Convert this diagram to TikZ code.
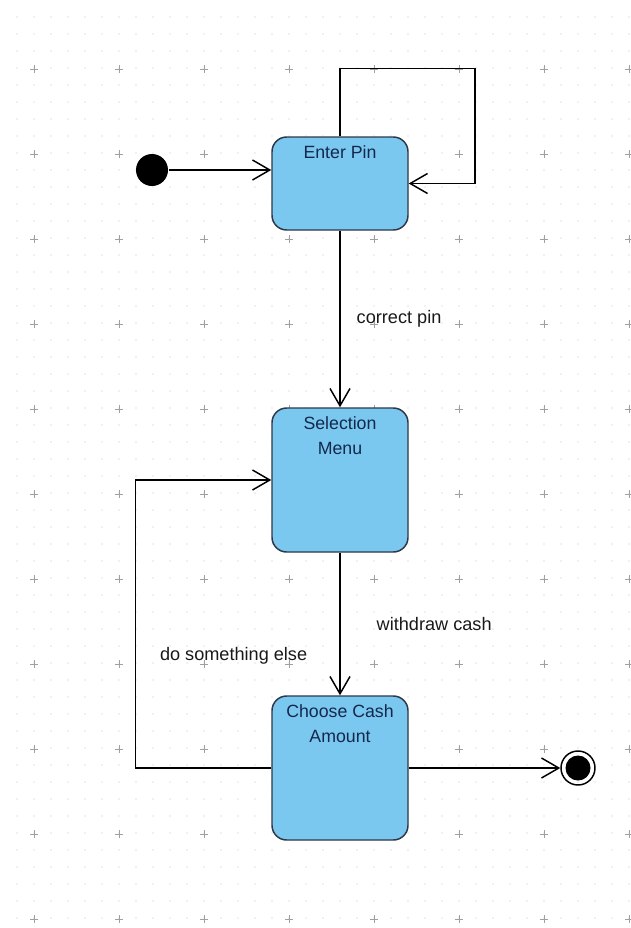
\documentclass[tikz,border=0pt]{standalone}
\usepackage{fontspec}
\setmainfont{Liberation Sans}
\usetikzlibrary{arrows.meta}

\definecolor{statefill}{RGB}{122,200,240}
\definecolor{stateline}{RGB}{45,55,70}
\definecolor{statetext}{RGB}{20,40,75}
\definecolor{griddot}{RGB}{195,195,195}
\definecolor{gridplus}{RGB}{160,160,160}

\begin{document}
\begin{tikzpicture}[x=0.75pt,y=-0.75pt,>={Straight Barb[length=13pt,width=15pt]},line width=1.1pt,
    main node/.style={draw=stateline,fill=statefill,rounded corners=11pt,minimum width=102pt,inner sep=0pt},
    name text/.style={anchor=north,inner sep=0pt,yshift=-6.5pt,align=center,text=statetext,font=\fontsize{13.3}{18.75}\selectfont},
    edge text/.style={inner sep=0pt,text=black!90,font=\fontsize{13.6}{15}\selectfont}]
    \useasboundingbox (0,0) rectangle (631,928);

    \foreach \i in {1,...,37}
        \foreach \j in {1,...,54}
            \fill[griddot] (17*\i,17*\j) circle (0.6);
    \foreach \i in {0,...,7}
        \foreach \j in {0,...,10}
            \draw[gridplus,line width=0.5pt] (34+85*\i,65+85*\j) -- ++(0,8) (30+85*\i,69+85*\j) -- ++(8,0);

    \node[circle,fill=black,minimum size=24pt,inner sep=0pt] (start) at (152,170) {};
    \node[main node,minimum height=69.75pt,label={[name text]north:Enter Pin}] (enter) at (340,183.5) {};
    \node[main node,minimum height=108pt,label={[name text]north:{Selection\\Menu}}] (select) at (340,480) {};
    \node[main node,minimum height=108pt,label={[name text]north:{Choose Cash\\Amount}}] (cash) at (340,768) {};
    \node[circle,draw=black,minimum size=25.5pt,inner sep=0pt] (end) at (578,768) {};
    \fill (end) circle (12.5);

    \draw[->] (start) -- (start -| enter.west);
    \draw[->] (enter.north) -- ++(0,-68) -- ++(135,0) |- (enter.east);
    \draw[->] (enter.south) -- node[edge text,anchor=west,xshift=12pt] {correct pin} (select.north);
    \draw[->] (select.south) -- node[edge text,anchor=west,xshift=27pt] {withdraw cash} (cash.north);
    \draw[->] (cash.west) -- ++(-136,0) -- node[edge text,pos=0.39,anchor=west,xshift=18pt] {do something else} ++(0,-288) -- (select.west);
    \draw[->] (cash.east) -- (end);
\end{tikzpicture}
\end{document}
